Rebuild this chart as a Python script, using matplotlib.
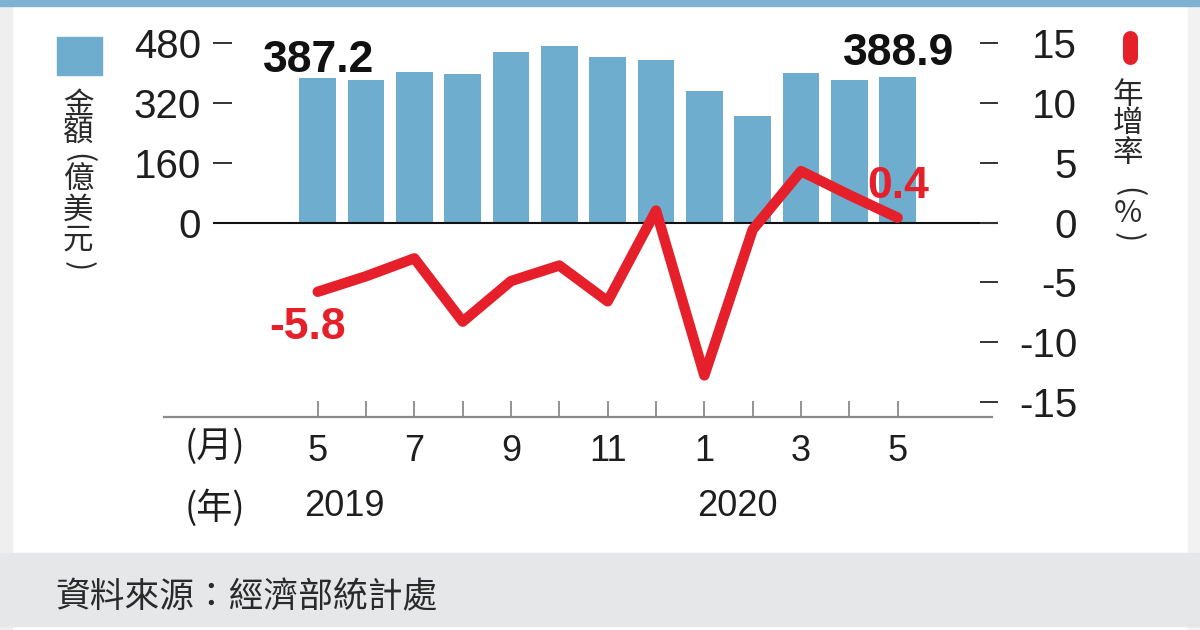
import matplotlib
matplotlib.use('Agg')
import matplotlib.pyplot as plt
from matplotlib.patches import Rectangle
from matplotlib.lines import Line2D

# ---------------- data ----------------
months = [5, 6, 7, 8, 9, 10, 11, 12, 1, 2, 3, 4, 5]
month_labels = ['5', '', '7', '', '9', '', '11', '', '1', '', '3', '', '5']
years = ['2019', '2020']
amount = [387.2, 383.0, 403.0, 398.0, 455.5, 474.0, 444.0, 436.5, 352.0, 284.5, 401.5, 383.0, 388.9]
growth = [-5.8, -4.5, -3.0, -8.3, -4.9, -3.6, -6.6, 1.0, -12.8, -0.6, 4.3, 2.3, 0.4]
left_ticks = [0, 160, 320, 480]
right_ticks = [-15, -10, -5, 0, 5, 10, 15]

# ---------------- style ----------------
plt.rcParams['font.family'] = ['Liberation Sans', 'Noto Sans CJK TC']
CJK = ['Noto Sans CJK TC', 'DejaVu Sans']
BAR = '#6eadce'
RED = '#e5202a'
TXT = '#1e1e1e'

W, H = 1200, 630
fig = plt.figure(figsize=(12, 6.3), dpi=100)
fig.patch.set_facecolor('white')


def fx(px):
    return px / W


def fy(py):
    return 1 - py / H


# frame decorations
fig.patches.append(Rectangle((0, 0), fx(12), 1, transform=fig.transFigure,
                             color='#efefef', zorder=0))
fig.patches.append(Rectangle((fx(1188), 0), fx(12), 1, transform=fig.transFigure,
                             color='#f2f2f2', zorder=0))
fig.patches.append(Rectangle((0, fy(626)), 1, (626 - 553) / H, transform=fig.transFigure,
                             color='#e6e7e8', zorder=0))
fig.patches.append(Rectangle((0, fy(6)), 1, 6 / H, transform=fig.transFigure,
                             color='#7db3d1', zorder=0))

# ---------------- main axes ----------------
X0, STEP = 317.7, 48.33
L, R, T, B = 213, 998, 43.3, 401.7
ax = fig.add_axes([fx(L), fy(B), (R - L) / W, (B - T) / H])
ax.set_xlim((L - X0) / STEP, (R - X0) / STEP)
x = list(range(len(months)))

ax.bar(x, amount, width=0.76, color=BAR, zorder=2)
ax.axhline(0, color='#111111', lw=1.5, zorder=3)
ax.set_ylim(-480, 480)
ax.set_yticks(left_ticks)
ax.set_yticklabels([str(v) for v in left_ticks])
ax.tick_params(axis='y', direction='in', length=13.5, width=1.4, color='#333333',
               pad=8.5, labelsize=29, labelcolor=TXT)
ax.set_xticks([])
for s in ax.spines.values():
    s.set_visible(False)
ax.patch.set_visible(False)

ax.annotate(f'{amount[0]:.1f}', xy=(0, amount[0]), xytext=(1, 4.5),
            textcoords='offset points', ha='center', va='baseline',
            fontsize=32, fontweight='bold', color='#111111')
ax.annotate(f'{amount[-1]:.1f}', xy=(12, amount[-1]), xytext=(0.5, 8.6),
            textcoords='offset points', ha='center', va='baseline',
            fontsize=32, fontweight='bold', color='#111111')

ax2 = ax.twinx()
ax2.plot(x, growth, color=RED, lw=7.5, solid_joinstyle='round',
         solid_capstyle='round', zorder=4)
ax2.set_ylim(-15, 15)
ax2.set_yticks(right_ticks)
ax2.set_yticklabels([str(v) for v in right_ticks])
ax2.tick_params(axis='y', direction='in', length=13, width=1.4, color='#333333',
                pad=57, labelsize=29, labelcolor=TXT)
plt.setp(ax2.get_yticklabels(), ha='right')
for s in ax2.spines.values():
    s.set_visible(False)

ax2.annotate(f'{growth[0]:.1f}', xy=(0, growth[0]), xytext=(-7, -34),
             textcoords='offset points', ha='center', va='baseline',
             fontsize=32, fontweight='bold', color=RED)
ax2.annotate(f'{growth[-1]:.1f}', xy=(12, growth[-1]), xytext=(0.5, 14.4),
             textcoords='offset points', ha='center', va='baseline',
             fontsize=32, fontweight='bold', color=RED)

# ---------------- bottom month axis ----------------
XB0, XB1, YB = 164, 992, 417
axb = fig.add_axes([fx(XB0), fy(YB), (XB1 - XB0) / W, 16 / H])
axb.set_xlim((XB0 - X0) / STEP, (XB1 - X0) / STEP)
axb.set_ylim(0, 1)
axb.set_xticks(x)
axb.set_xticklabels(month_labels)
axb.tick_params(axis='x', direction='in', length=11.5, width=1.3, color='#8a8a8a',
                pad=12, labelsize=26, labelcolor=TXT)
axb.set_yticks([])
for k, s in axb.spines.items():
    if k == 'bottom':
        s.set_color('#8a8a8a')
        s.set_linewidth(1.6)
    else:
        s.set_visible(False)
axb.patch.set_visible(False)

axb.annotate(years[0], xy=(0, 0), xycoords=('data', 'axes fraction'),
             xytext=(19.3, -64.8), textcoords='offset points',
             ha='center', va='center', fontsize=26, color=TXT)
axb.annotate(years[1], xy=(8, 0), xycoords=('data', 'axes fraction'),
             xytext=(23.9, -64.8), textcoords='offset points',
             ha='center', va='center', fontsize=26, color=TXT)

fig.text(fx(215), fy(447), '(月)', ha='center', va='center', fontsize=26,
         color=TXT, family=CJK)
fig.text(fx(215), fy(508), '(年)', ha='center', va='center', fontsize=26,
         color=TXT, family=CJK)

# ---------------- legends ----------------
fig.patches.append(Rectangle((fx(57), fy(75)), 45 / W, 38 / H,
                             transform=fig.transFigure, color=BAR))
left_chars = ['金', '額', '(', '億', '美', '元', ')']
left_cy = [105, 133.5, 158, 180, 210, 240, 266]
for ch, cy in zip(left_chars, left_cy):
    rot = -90 if ch in '()' else 0
    fig.text(fx(78), fy(cy), ch, ha='center', va='center', fontsize=22,
             color='#2a2a2a', family=CJK, rotation=rot)

fig.lines.append(Line2D([fx(1129.5), fx(1129.5)], [fy(38), fy(57)],
                        transform=fig.transFigure, color=RED, lw=10.8,
                        solid_capstyle='round'))
right_chars = ['年', '增', '率', '(', '%', ')']
right_cy = [95, 124, 154, 192, 214, 237]
for ch, cy in zip(right_chars, right_cy):
    rot = -90 if ch in '()' else 0
    fig.text(fx(1128), fy(cy), ch, ha='center', va='center', fontsize=22,
             color='#2a2a2a', family=CJK, rotation=rot)

# ---------------- source ----------------
fig.text(fx(55), fy(598), '資料來源：經濟部統計處', ha='left', va='center',
         fontsize=25, color='#2a2a2a', family=CJK)

fig.savefig('out.png', dpi=100)
